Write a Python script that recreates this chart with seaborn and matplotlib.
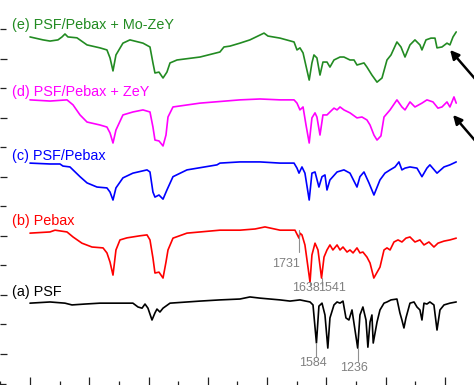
import matplotlib
matplotlib.use("Agg")
import matplotlib.pyplot as plt
from matplotlib.ticker import MultipleLocator
import seaborn as sns
import pandas as pd

# ---------------- data (wavenumber cm-1, transmittance a.u. with offsets) -------------
wn_e = [4000, 3890, 3831, 3764, 3730, 3705, 3680, 3604, 3519, 3410, 3351, 3325, 3300, 3275, 3216,
        3157, 3047, 2988, 2963, 2946, 2912, 2878, 2845, 2819, 2760, 2566, 2398, 2364, 2313, 2229,
        2145, 2026, 1993, 1891, 1773, 1748, 1723, 1697, 1645, 1622, 1605, 1580, 1554, 1529, 1495,
        1470, 1436, 1385, 1352, 1301, 1267, 1242, 1183, 1158, 1116, 1073, 1031, 989, 955, 905,
        871, 837, 795, 753, 711, 694, 660, 618, 584, 567, 525, 483, 458, 432, 405]
t_e = [11.73, 11.63, 11.59, 11.63, 11.73, 11.83, 11.73, 11.70, 11.46, 11.36, 11.29, 11.02, 10.58, 11.12, 11.52,
       11.63, 11.52, 11.39, 10.85, 10.51, 10.54, 10.34, 10.54, 10.85, 10.95, 11.05, 11.22, 11.39, 11.42, 11.52,
       11.63, 11.86, 11.76, 11.69, 11.56, 11.29, 11.36, 11.19, 10.27, 10.85, 11.12, 11.02, 10.44, 10.88, 10.88,
       10.71, 10.95, 11.05, 11.05, 10.95, 10.95, 10.78, 10.85, 10.71, 10.44, 10.20, 10.34, 10.95, 11.12, 11.56,
       11.39, 11.05, 11.46, 11.63, 11.46, 11.29, 11.63, 11.69, 11.69, 11.36, 11.39, 11.52, 11.46, 11.73, 11.90]

wn_d = [4000, 3831, 3688, 3637, 3578, 3519, 3410, 3351, 3325, 3300, 3275, 3216, 3132, 3047, 2988,
        2963, 2946, 2912, 2878, 2853, 2836, 2794, 2566, 2229, 2060, 1891, 1773, 1748, 1723, 1697,
        1672, 1645, 1622, 1596, 1580, 1554, 1529, 1495, 1470, 1436, 1410, 1385, 1352, 1301, 1242,
        1200, 1158, 1132, 1099, 1073, 1040, 1014, 963, 905, 863, 837, 795, 753, 694, 652,
        601, 559, 525, 483, 458, 424, 405]
t_d = [9.60, 9.56, 9.60, 9.43, 9.09, 8.85, 8.75, 8.68, 8.48, 8.14, 8.58, 9.09, 9.19, 9.26, 9.19,
       8.68, 8.24, 8.21, 8.04, 8.41, 9.02, 9.36, 9.49, 9.60, 9.63, 9.60, 9.60, 9.49, 9.26, 9.36,
       8.75, 8.14, 8.99, 9.16, 9.02, 8.41, 9.09, 9.09, 9.19, 9.32, 9.26, 9.36, 9.26, 9.16, 8.99,
       9.02, 8.92, 8.75, 8.41, 8.24, 8.38, 9.02, 9.26, 9.60, 9.36, 9.26, 9.53, 9.36, 9.49, 9.60,
       9.53, 9.32, 9.36, 9.53, 9.36, 9.70, 9.49]

wn_c = [4000, 3831, 3747, 3722, 3663, 3578, 3519, 3435, 3351, 3325, 3300, 3275, 3216, 3132, 3013,
        2988, 2963, 2946, 2912, 2878, 2845, 2794, 2676, 2423, 2398, 2229, 2060, 1891, 1773, 1748,
        1731, 1706, 1681, 1645, 1622, 1596, 1563, 1537, 1512, 1495, 1470, 1410, 1352, 1301, 1242,
        1217, 1183, 1141, 1099, 1048, 1006, 963, 921, 888, 863, 837, 795, 736, 694, 652,
        627, 567, 508, 458, 405]
t_c = [7.46, 7.43, 7.43, 7.36, 7.33, 7.00, 6.79, 6.65, 6.62, 6.48, 6.21, 6.62, 6.96, 7.12, 7.23,
       7.16, 6.48, 6.31, 6.38, 6.24, 6.55, 7.00, 7.23, 7.40, 7.46, 7.50, 7.50, 7.46, 7.46, 7.29,
       7.12, 7.33, 7.12, 6.21, 7.12, 7.16, 6.65, 7.00, 7.06, 6.55, 6.89, 7.16, 7.23, 7.12, 6.65,
       7.00, 7.16, 6.79, 6.38, 6.89, 7.12, 7.23, 7.33, 7.50, 7.23, 7.29, 7.33, 7.29, 7.00, 7.29,
       7.40, 7.12, 7.33, 7.40, 7.50]

wn_b = [4000, 3831, 3789, 3688, 3637, 3562, 3477, 3384, 3351, 3325, 3300, 3275, 3241, 3182, 3072,
        3013, 2988, 2963, 2946, 2912, 2878, 2853, 2836, 2794, 2676, 2398, 2229, 2102, 2018, 1891,
        1765, 1731, 1723, 1706, 1681, 1638, 1622, 1596, 1571, 1541, 1520, 1495, 1470, 1445, 1410,
        1385, 1360, 1326, 1301, 1275, 1242, 1217, 1192, 1158, 1132, 1100, 1048, 1014, 989, 963,
        930, 896, 863, 829, 795, 753, 711, 677, 635, 593, 559, 508, 458, 405]
t_b = [5.09, 5.13, 5.19, 5.13, 4.96, 4.75, 4.62, 4.59, 4.42, 4.11, 3.67, 4.52, 4.86, 4.93, 5.00,
       5.03, 4.86, 4.25, 3.74, 3.77, 3.57, 4.11, 4.52, 4.92, 5.09, 5.19, 5.19, 5.23, 5.30, 5.19,
       5.19, 4.92, 5.09, 5.03, 4.69, 3.43, 4.35, 4.75, 4.52, 3.57, 4.28, 4.52, 4.69, 4.52, 4.69,
       4.52, 4.62, 4.45, 4.52, 4.42, 4.59, 4.42, 4.45, 4.28, 4.08, 3.57, 3.94, 4.52, 4.59, 4.52,
       4.79, 4.86, 4.79, 4.92, 4.96, 4.79, 4.86, 4.69, 4.79, 4.62, 4.75, 4.82, 4.86, 4.92]

wn_a = [4000, 3831, 3705, 3646, 3536, 3410, 3241, 3132, 3089, 3055, 3030, 3005, 2971, 2946, 2929,
        2904, 2878, 2819, 2566, 2398, 2229, 2145, 2060, 1976, 1891, 1807, 1723, 1638, 1613, 1584,
        1563, 1537, 1512, 1488, 1470, 1436, 1410, 1385, 1360, 1335, 1310, 1284, 1236, 1217, 1192,
        1166, 1150, 1132, 1116, 1105, 1073, 1048, 1014, 989, 955, 905, 880, 863, 846, 829,
        795, 761, 736, 711, 694, 677, 652, 627, 593, 567, 542, 508, 458, 405]
t_a = [2.72, 2.76, 2.72, 2.66, 2.69, 2.72, 2.72, 2.72, 2.59, 2.55, 2.69, 2.55, 2.15, 2.39, 2.52,
       2.42, 2.55, 2.72, 2.79, 2.83, 2.86, 2.93, 2.89, 2.86, 2.83, 2.79, 2.83, 2.76, 2.66, 1.37,
       2.62, 2.72, 2.32, 1.20, 2.22, 2.66, 2.76, 2.72, 2.79, 2.22, 2.15, 2.49, 1.20, 2.32, 2.59,
       2.15, 1.23, 2.08, 2.32, 1.37, 2.08, 2.49, 2.72, 2.76, 2.83, 2.86, 2.39, 2.15, 1.88, 2.22,
       2.72, 2.76, 2.59, 2.49, 2.15, 2.72, 2.69, 2.76, 2.66, 1.81, 2.49, 2.66, 2.72, 2.76]

series_labels = ["(a) PSF", "(b) Pebax", "(c) PSF/Pebax", "(d) PSF/Pebax + ZeY",
                 "(e) PSF/Pebax + Mo-ZeY"]
series_colors = ["#000000", "#ff0000", "#0000ff", "#ff00ff", "#228b22"]
label_y = [3.10, 5.50, 7.70, 9.87, 12.13]

# peak annotations: (text, peak wn, peak t, line end t, text wn, text t)
peak_text = ["1731", "1638", "1541", "1584", "1236"]
peak_wn = [1731, 1638, 1541, 1584, 1236]
peak_top = [5.19, 3.43, 3.57, 1.37, 1.20]
peak_end = [4.45, 3.30, 3.32, 0.90, 0.75]
peak_text_wn = [1723, 1672, 1453, 1613, 1267]
peak_text_t = [4.04, 3.24, 3.24, 0.68, 0.53]
peak_text_ha = ["right", "center", "center", "center", "center"]

# arrows: tip (wn, t) and tail (wn, t)
arrow_tip = [(457, 11.29), (432, 9.09)]
arrow_tail = [(222, 10.20), (222, 8.11)]

# ---------------- plotting -------------
sns.set_style("white")
plt.rcParams["font.family"] = ["Liberation Sans", "DejaVu Sans"]

fig = plt.figure(figsize=(4.74, 3.85), dpi=100)
ax = fig.add_axes([0, 0, 1, 1])

all_wn = [wn_a, wn_b, wn_c, wn_d, wn_e]
all_t = [t_a, t_b, t_c, t_d, t_e]
for wn, t, col in zip(all_wn, all_t, series_colors):
    df = pd.DataFrame({"wn": wn, "t": t})
    sns.lineplot(data=df, x="wn", y="t", ax=ax, color=col, lw=1.2,
                 estimator=None, sort=True)

for lab, col, ly in zip(series_labels, series_colors, label_y):
    ax.text(4152, ly, lab, color=col, fontsize=10.4, ha="left", va="center")

for txt, pw, pt, pe, tw, tt, ha in zip(peak_text, peak_wn, peak_top, peak_end,
                                        peak_text_wn, peak_text_t, peak_text_ha):
    ax.plot([pw, pw], [pt, pe], color="#909090", lw=0.8)
    ax.text(tw, tt, txt, color="#808080", fontsize=9, ha=ha, va="center")

for tip, tail in zip(arrow_tip, arrow_tail):
    ax.annotate("", xy=tip, xytext=tail, annotation_clip=False,
                arrowprops=dict(arrowstyle="-|>", color="black", lw=1.8,
                                mutation_scale=13, shrinkA=0, shrinkB=0))

ax.set_xlim(4253, 255)
ax.set_ylim(-0.05, 12.98)
ax.xaxis.set_major_locator(MultipleLocator(500))
ax.xaxis.set_minor_locator(MultipleLocator(250))
ax.yaxis.set_major_locator(MultipleLocator(2, offset=1))
ax.yaxis.set_minor_locator(MultipleLocator(1))
ax.tick_params(axis="both", which="both", direction="in", colors="#222222",
               labelbottom=False, labelleft=False, bottom=True, left=True)
ax.tick_params(axis="x", which="major", length=6, width=0.9)
ax.tick_params(axis="x", which="minor", length=3.2, width=0.9)
ax.tick_params(axis="y", which="major", length=5, width=0.9)
ax.tick_params(axis="y", which="minor", length=4, width=0.9)
ax.set_xlabel("")
ax.set_ylabel("")
for s in ax.spines.values():
    s.set_visible(False)

fig.savefig("out.png", dpi=100)
